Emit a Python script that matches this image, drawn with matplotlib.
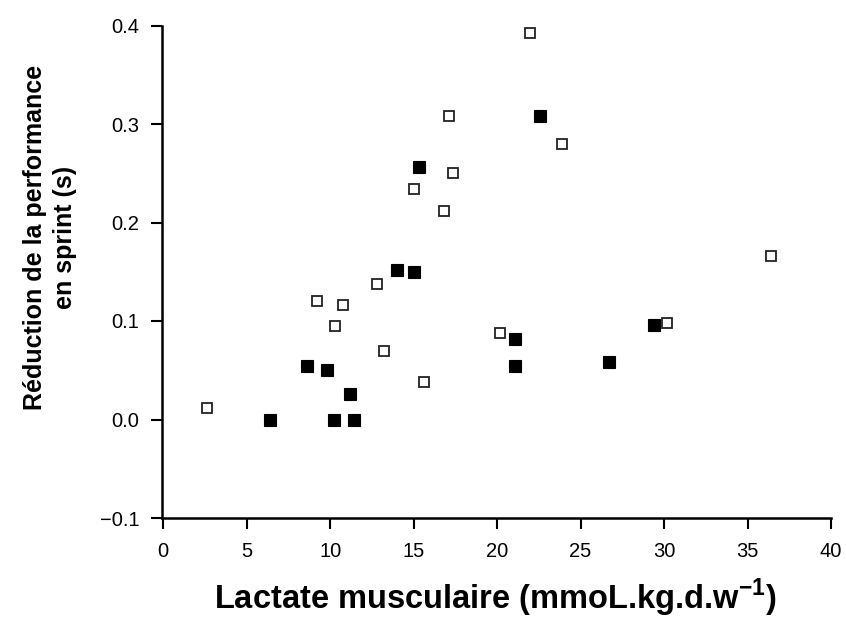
import matplotlib
matplotlib.use("Agg")
import matplotlib.pyplot as plt

plt.rcParams['font.family'] = ['Liberation Sans', 'DejaVu Sans']
plt.rcParams['mathtext.fontset'] = 'custom'
plt.rcParams['mathtext.rm'] = 'Liberation Sans'
plt.rcParams['mathtext.bf'] = 'Liberation Sans:bold'

# Open squares
open_x = [2.6, 9.2, 10.3, 10.8, 12.8, 13.2, 15.0, 15.6, 16.8, 17.1, 17.35, 20.2, 22.0, 23.9, 30.2, 36.4]
open_y = [0.012, 0.120, 0.095, 0.116, 0.138, 0.070, 0.234, 0.038, 0.212, 0.308, 0.250, 0.088, 0.392, 0.280, 0.098, 0.166]
# Filled squares
fill_x = [6.4, 8.6, 9.8, 10.25, 11.2, 11.4, 14.0, 15.0, 15.3, 21.1, 21.1, 22.6, 26.7, 29.4]
fill_y = [0.0, 0.054, 0.050, 0.0, 0.026, 0.0, 0.152, 0.150, 0.256, 0.082, 0.054, 0.308, 0.058, 0.096]

x_ticks = [0, 5, 10, 15, 20, 25, 30, 35, 40]
y_ticks = [-0.1, 0.0, 0.1, 0.2, 0.3, 0.4]

fig = plt.figure(figsize=(8.46, 6.19), dpi=100)
ax = fig.add_axes([161.5/846, 1 - 518/619, (831 - 161.5)/846, (518 - 25.5)/619])

ax.plot(fill_x, fill_y, linestyle='none', marker='s', markersize=8.0,
        markerfacecolor='black', markeredgecolor='black', markeredgewidth=0.8, clip_on=False)
ax.plot(open_x, open_y, linestyle='none', marker='s', markersize=7.8,
        markerfacecolor='white', markeredgecolor='#222222', markeredgewidth=1.3, clip_on=False)

ax.set_xlim(-0.1, 40)
ax.set_ylim(-0.1, 0.4)
ax.set_xticks(x_ticks)
ax.set_xticklabels([str(t) for t in x_ticks], fontsize=14.5)
ax.set_yticks(y_ticks)
ax.set_yticklabels([f"{t:.1f}".replace('-', '\u2212') for t in y_ticks], fontsize=14.5)

for s in ['top', 'right']:
    ax.spines[s].set_visible(False)
for s in ['left', 'bottom']:
    ax.spines[s].set_linewidth(1.8)
ax.tick_params(axis='both', direction='out', length=8, width=1.5, colors='black')
ax.tick_params(axis='x', pad=9)
ax.tick_params(axis='y', pad=8)

fig.text(50/846, 1 - 237/619, "Réduction de la performance\nen sprint (s)", rotation=90,
         ha='center', va='center', multialignment='center', fontsize=18, fontweight='bold',
         linespacing=1.35)
fig.text(495/846, 1 - 598/619, "Lactate musculaire (mmoL.kg.d.w$^{\\mathbf{-1}}$)",
         ha='center', va='center', fontsize=23.5, fontweight='bold')

fig.savefig("out.png", dpi=100)
